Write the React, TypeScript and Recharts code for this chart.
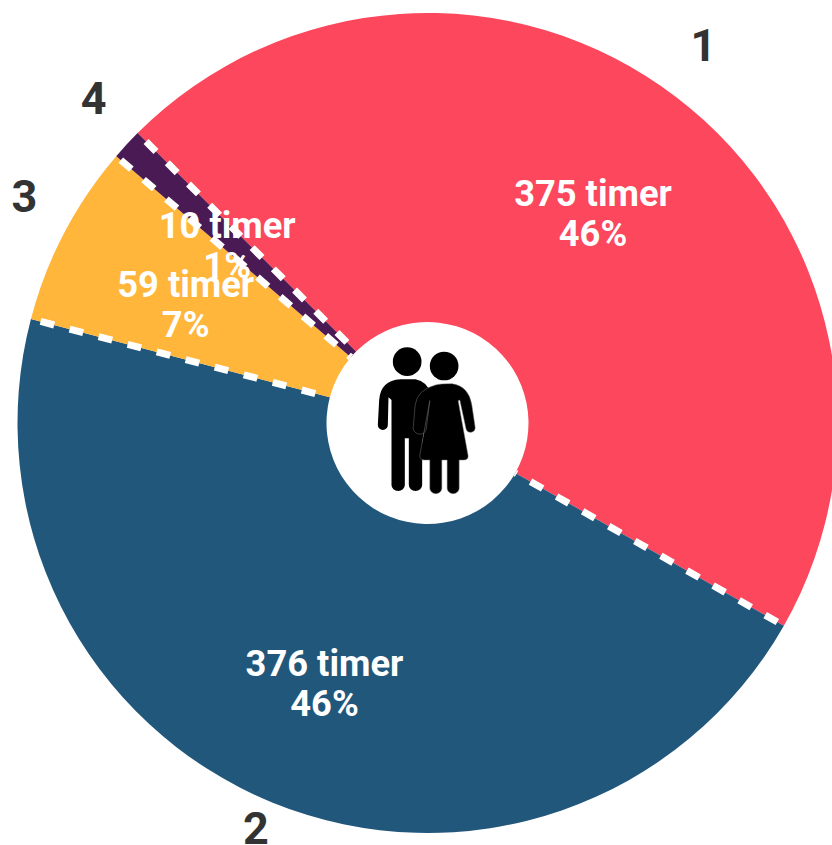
import React from "react";
import { PieChart, Pie, Cell } from "recharts";

const categories = ["1", "2", "3", "4"];
const hours = [375, 376, 59, 10];
const hourLabels = ["375 timer", "376 timer", "59 timer", "10 timer"];
const shareLabels = ["46%", "46%", "7%", "1%"];
const colors = ["#FC475C", "#22577C", "#FFB63B", "#4A1A55"];
const firstDashRadius = [391, 395.5, 393, 397];

const rows = categories.map((name, i) => ({ name, value: hours[i] }));

const RAD = Math.PI / 180;
const polar = (cx: number, cy: number, r: number, a: number) => ({
  x: cx + r * Math.cos(a * RAD),
  y: cy - r * Math.sin(a * RAD),
});

function SliceLabel(props: any) {
  const { cx, cy, midAngle, startAngle, innerRadius, index } = props;
  const from = polar(cx, cy, firstDashRadius[index] + 7, startAngle);
  const to = polar(cx, cy, innerRadius, startAngle);
  const inner = polar(cx, cy, 273, midAngle);
  const outer = polar(cx, cy, 455, midAngle);
  return (
    <g>
      <line
        x1={from.x}
        y1={from.y}
        x2={to.x}
        y2={to.y}
        stroke="#fff"
        strokeWidth={7}
        strokeDasharray="14 16"
      />
      <text
        x={inner.x}
        y={inner.y + 0.5}
        textAnchor="middle"
        fill="#fff"
        fontFamily="Roboto"
        fontWeight={700}
        fontSize={36.3}
      >
        <tspan x={inner.x}>{hourLabels[index]}</tspan>
        <tspan x={inner.x} dy={40}>
          {shareLabels[index]}
        </tspan>
      </text>
      <text
        x={outer.x}
        y={outer.y}
        textAnchor="middle"
        fill="#333"
        fontFamily="Roboto"
        fontWeight={700}
        fontSize={45}
      >
        {categories[index]}
      </text>
    </g>
  );
}

function CoupleIcon() {
  return (
    <g transform="translate(320.5 310) scale(0.3333)" fill="#000">
      <circle cx={260} cy={155} r={43} />
      <circle cx={371} cy={168} r={43} />
      <path d="M213 540 V270 L204 262 L202 345 A15 15 0 0 1 172 345 L176 270 Q180 212 240 208 L285 208 Q320 215 330 250 L305 400 V525 A20 18 0 0 1 265 525 V385 H253 V525 A20 18 0 0 1 213 525 Z" />
      <path
        d="M345 225 Q358 221 395 221 Q445 228 454 285 L464 352 A14 14 0 0 1 437 358 L418 270 L413 272 L443 438 Q443 450 430 450 H416 V535 A18 16 0 0 1 380 535 V450 H364 V535 A18 16 0 0 1 328 535 V450 H312 Q296 450 298 435 L328 272 L318 350 A16 16 0 0 1 278 355 L284 285 Q290 240 345 225 Z"
        stroke="#777"
        strokeWidth={1.5}
      />
    </g>
  );
}

export default function App() {
  return (
    <div style={{ position: "absolute", left: 0, top: 0, width: 832, height: 845, overflow: "hidden", background: "#fff" }}>
      <PieChart width={832} height={845} margin={{ top: 0, right: 0, bottom: 0, left: 0 }}>
        <Pie
          data={rows}
          dataKey="value"
          nameKey="name"
          cx={427.5}
          cy={423}
          innerRadius={101}
          outerRadius={410}
          startAngle={135}
          endAngle={-225}
          stroke="none"
          paddingAngle={0}
          label={SliceLabel}
          labelLine={false}
          isAnimationActive={false}
        >
          {rows.map((r, i) => (
            <Cell key={r.name} fill={colors[i]} />
          ))}
        </Pie>
        <CoupleIcon />
      </PieChart>
    </div>
  );
}
